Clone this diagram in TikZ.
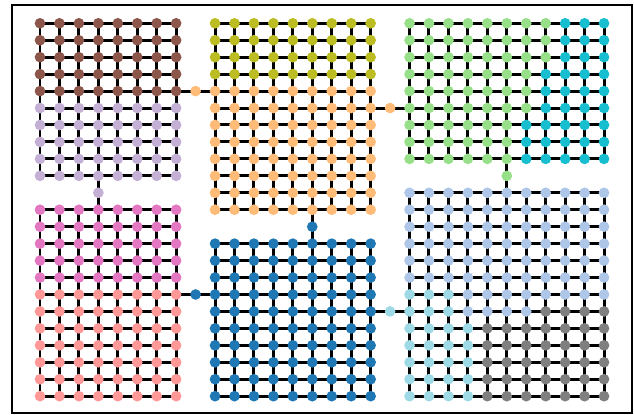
\documentclass[tikz,border=0pt]{standalone}
\usetikzlibrary{backgrounds}
\definecolor{tbrown}{HTML}{8C564B}
\definecolor{tlilac}{HTML}{C5B0D5}
\definecolor{tolive}{HTML}{BCBD22}
\definecolor{tapricot}{HTML}{FFBB78}
\definecolor{tmint}{HTML}{98DF8A}
\definecolor{tcyan}{HTML}{17BECF}
\definecolor{tsky}{HTML}{AEC7E8}
\definecolor{tice}{HTML}{9EDAE5}
\definecolor{tgray}{HTML}{7F7F7F}
\definecolor{tpink}{HTML}{E377C2}
\definecolor{tsalmon}{HTML}{FF9896}
\definecolor{tblue}{HTML}{1F77B4}
\tikzset{
  dot/.style={circle, fill=#1, draw=none, inner sep=0pt, minimum size=0.267cm},
  link/.style={line width=0.075cm, draw=black},
  frame/.style={line width=0.05cm, draw=black},
}

\begin{document}
\begin{tikzpicture}[x=0.48625cm, y=-0.42375cm]
\useasboundingbox (-2.0566,-1.3746) rectangle (30.540,23.109);
\draw[frame] (-1.4396,-1.0796) rectangle (30.437,22.991);

% grid cells, by colour: colour / first col / last col / first row / last row
\foreach \c/\ja/\jb/\ka/\kb in {
    tbrown/0/7/0/4, tlilac/0/7/5/9,
    tolive/9/17/0/3, tapricot/9/17/4/11,
    tmint/19/26/0/2, tmint/19/25/3/5, tmint/19/24/6/8,
    tcyan/27/29/0/2, tcyan/26/29/3/5, tcyan/25/29/6/8,
    tpink/0/7/11/15, tsalmon/0/7/16/22,
    tblue/9/17/13/22,
    tsky/19/29/10/15, tice/19/21/16/17, tsky/22/29/16/16, tsky/22/25/17/17,
    tgray/26/29/17/17, tice/19/22/18/22, tgray/23/29/18/22}
{
  \foreach \j in {\ja,...,\jb}
    \foreach \k in {\ka,...,\kb}
      \node[dot=\c] (n-\j-\k) at (\j,\k) {};
}

% bridge nodes between blocks
\foreach \c/\j/\k in {tapricot/8/4, tapricot/18/5, tlilac/3/10, tblue/14/12,
    tmint/24/9, tblue/8/16, tice/18/17}
  \node[dot=\c] (n-\j-\k) at (\j,\k) {};

\begin{scope}[on background layer]
  % edges inside each block
  \foreach \ja/\jb/\ka/\kb in {0/7/0/9, 9/17/0/11, 19/29/0/8, 0/7/11/22, 9/17/13/22, 19/29/10/22}
  {
    \foreach \j in {\ja,...,\jb}
      \foreach \k in {\ka,...,\kb}
      {
        \pgfmathtruncatemacro{\jn}{\j+1}
        \pgfmathtruncatemacro{\kn}{\k+1}
        \ifnum\j<\jb \draw[link] (n-\j-\k.center) -- (n-\jn-\k.center); \fi
        \ifnum\k<\kb \draw[link] (n-\j-\k.center) -- (n-\j-\kn.center); \fi
      }
  }
  % edges through the bridge nodes
  \draw[link] (n-7-4.center) -- (n-8-4.center) -- (n-9-4.center);
  \draw[link] (n-17-5.center) -- (n-18-5.center) -- (n-19-5.center);
  \draw[link] (n-3-9.center) -- (n-3-10.center) -- (n-3-11.center);
  \draw[link] (n-14-11.center) -- (n-14-12.center) -- (n-14-13.center);
  \draw[link] (n-24-8.center) -- (n-24-9.center) -- (n-24-10.center);
  \draw[link] (n-7-16.center) -- (n-8-16.center) -- (n-9-16.center);
  \draw[link] (n-17-17.center) -- (n-18-17.center) -- (n-19-17.center);
\end{scope}
\end{tikzpicture}
\end{document}
